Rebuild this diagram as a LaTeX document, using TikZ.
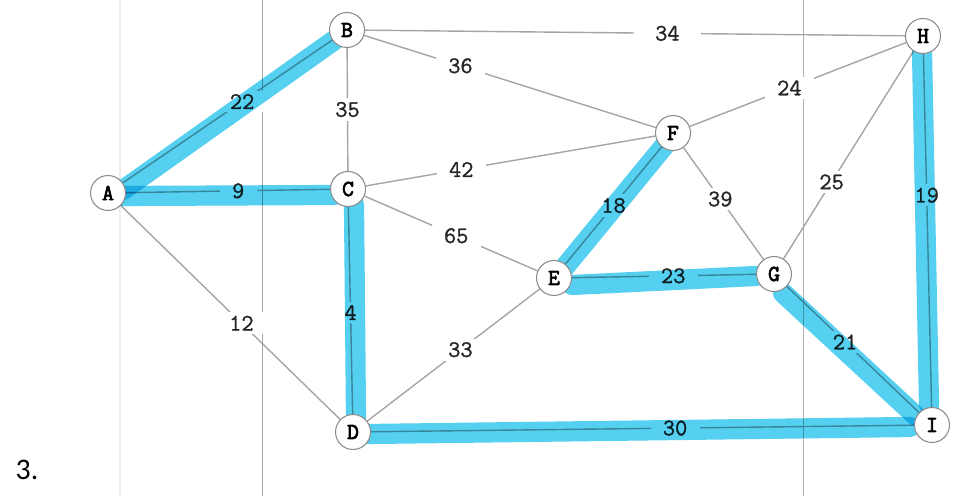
\documentclass[tikz,border=0pt]{standalone}
\usepackage{fontspec}
\newfontfamily\numfont{Carlito}
\newfontfamily\wtfont[FakeBold=1.2]{Latin Modern Mono}
\newfontfamily\vxfont[FakeBold=3]{Latin Modern Mono}
\usetikzlibrary{calc}
\definecolor{hlcyan}{RGB}{85,208,240}
\definecolor{linkgray}{RGB}{165,165,165}
\pgfdeclarelayer{gridlayer}
\pgfdeclarelayer{edgelayer}
\pgfdeclarelayer{hllayer}
\pgfsetlayers{gridlayer,edgelayer,hllayer,main}
\begin{document}
\begin{tikzpicture}[x=0.02cm,y=-0.02cm,
  vertex/.style={circle,draw=black!45,line width=0.6pt,fill=white,minimum size=0.7cm,inner sep=0pt,
    font=\vxfont\fontsize{13}{13}\selectfont},
  wt/.style={fill=white,inner xsep=7pt,inner ysep=2pt,font=\wtfont\fontsize{13.5}{13.5}\selectfont,text=black!85},
  link/.style={draw=linkgray,line width=0.8pt},
  hlstroke/.style={draw=hlcyan,line width=11.5pt,line cap=round,blend mode=multiply}]
\useasboundingbox (0,0) rectangle (963,496);
% nodes
\node[vertex] (A) at (108,193) {A};
\node[vertex] (B) at (347,30) {B};
\node[vertex] (C) at (348,189) {C};
\node[vertex] (D) at (353,432) {D};
\node[vertex] (E) at (554,278) {E};
\node[vertex] (F) at (673,133) {F};
\node[vertex] (G) at (774,274) {G};
\node[vertex] (H) at (923,36) {H};
\node[vertex] (I) at (932,425) {I};
\node[font=\numfont\fontsize{17}{17}\selectfont] (num) at (27,470) {3.};
% page lines
\begin{pgfonlayer}{gridlayer}
\draw[black!8,line width=1.5pt] (120,0) -- (120,496);
\draw[black!35,line width=0.5pt] (262,0) -- (262,496);
\draw[black!30,line width=0.5pt] (803,0) -- (803,496);
\end{pgfonlayer}
% edges
\begin{pgfonlayer}{edgelayer}
\draw[link] (A) -- node[wt,pos=0.57]{22} (B);
\draw[link] (A) -- node[wt,pos=0.55]{9} (C);
\draw[link] (A) -- node[wt,pos=0.55]{12} (D);
\draw[link] (B) -- node[wt,pos=0.5]{35} (C);
\draw[link] (B) -- node[wt,pos=0.56,inner xsep=12pt]{34} (H);
\draw[link] (B) -- node[wt,pos=0.33]{36} (F);
\draw[link] (C) -- node[wt,pos=0.33]{42} (F);
\draw[link] (C) -- node[wt,pos=0.53]{65} (E);
\draw[link] (C) -- node[wt,pos=0.51]{4} (D);
\draw[link] (D) -- node[wt,pos=0.54]{33} (E);
\draw[link] (D) -- node[wt,pos=0.56]{30} (I);
\draw[link] (E) -- node[wt,pos=0.5]{18} (F);
\draw[link] (E) -- node[wt,pos=0.55]{23} (G);
\draw[link] (F) -- node[wt,pos=0.46]{39} (G);
\draw[link] (F) -- node[wt,pos=0.46]{24} (H);
\draw[link] (G) -- node[wt,pos=0.37]{25} (H);
\draw[link] (G) -- node[wt,pos=0.44]{21} (I);
\draw[link] (H) -- node[wt,pos=0.4]{19} (I);
\end{pgfonlayer}
% highlighter strokes
\begin{pgfonlayer}{hllayer}
\draw[hlstroke] ($(A)+(15,-3)$) -- ($(B)+(-11,9)$);
\draw[hlstroke] ($(A)+(14,3)$) -- ($(C)+(-14,6)$);
\draw[hlstroke] ($(C)+(6,16)$) -- ($(D)+(3,-14)$);
\draw[hlstroke] ($(D)+(16,2)$) -- ($(I)+(-22,2)$);
\draw[hlstroke] ($(E)+(10,-10)$) -- ($(F)+(-8,12)$);
\draw[hlstroke] ($(E)+(18,7)$) -- ($(G)+(-18,2)$);
\draw[hlstroke] ($(G)+(9,19)$) -- ($(I)+(-16,-9)$);
\draw[hlstroke] ($(H)+(-1,16)$) -- ($(I)+(-3,-20)$);
\end{pgfonlayer}
\end{tikzpicture}
\end{document}
